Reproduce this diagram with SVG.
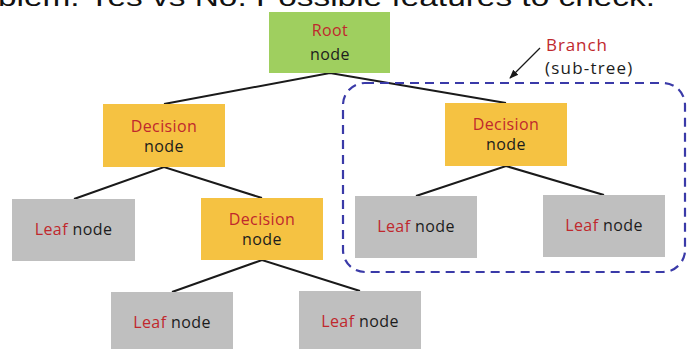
<svg xmlns="http://www.w3.org/2000/svg" width="690" height="349" viewBox="0 0 690 349">
<style>
.t{font-family:"Open Sans","Noto Sans",sans-serif;font-size:16px;letter-spacing:0.4px;text-anchor:middle;fill:#1c1c1c}
.r{fill:#c0282d}
.root{fill:#9fcf5f}
.dec{fill:#f5c242}
.leaf{fill:#bfbfbf}
.ln{stroke:#1a1a1a;stroke-width:2;fill:none}
</style>
<defs>
<marker id="ah" viewBox="0 0 10 10" refX="9" refY="5" markerWidth="7" markerHeight="7" orient="auto">
<path d="M0,1 L10,5 L0,9 Z" fill="#1a1a1a"/>
</marker>
</defs>
<rect width="690" height="349" fill="#ffffff"/>
<text x="-2" y="6" font-family="'Liberation Sans',Arial,sans-serif" font-size="26" fill="#111" textLength="657" lengthAdjust="spacingAndGlyphs">blem. Yes vs No. Possible features to check.</text>

<g id="connectors">
<polyline class="ln" points="164,104 330,73 506,103"/>
<polyline class="ln" points="74,199 164,167 262,198"/>
<polyline class="ln" points="172,292 262,260 360,291"/>
<polyline class="ln" points="416,196 506,166 604,195"/>
<line x1="540" y1="48" x2="510" y2="78" stroke="#1a1a1a" stroke-width="1.3" marker-end="url(#ah)"/>
</g>

<g id="branch">
<rect x="343" y="83" width="342" height="189" rx="22" fill="none" stroke="#3a3aa8" stroke-width="2.2" stroke-dasharray="9 6"/>
<text class="t" x="546" y="50.5" style="text-anchor:start;font-size:17px;letter-spacing:0.9px"><tspan class="r">Branch</tspan></text>
<text class="t" x="545" y="74" style="text-anchor:start;font-size:17px;letter-spacing:1.2px">(sub-tree)</text>
</g>

<g id="root">
<rect class="root" x="269" y="12" width="121" height="61"/>
<text class="t r" x="330" y="35.5">Root</text>
<text class="t" x="330" y="60">node</text>
</g>

<g id="decision1">
<rect class="dec" x="103" y="104" width="122" height="63"/>
<text class="t r" x="164" y="132">Decision</text>
<text class="t" x="164" y="152">node</text>
</g>

<g id="decision3">
<rect class="dec" x="445" y="103" width="122" height="63"/>
<text class="t r" x="506" y="130">Decision</text>
<text class="t" x="506" y="150">node</text>
</g>

<g id="leaf1">
<rect class="leaf" x="12" y="199" width="123" height="62"/>
<text class="t" x="73.5" y="235"><tspan class="r">Leaf</tspan> node</text>
</g>

<g id="decision2">
<rect class="dec" x="201" y="198" width="122" height="62"/>
<text class="t r" x="262" y="224.5">Decision</text>
<text class="t" x="262" y="244.5">node</text>
</g>

<g id="leaf3">
<rect class="leaf" x="355" y="196" width="122" height="62"/>
<text class="t" x="416" y="232"><tspan class="r">Leaf</tspan> node</text>
</g>

<g id="leaf4">
<rect class="leaf" x="543" y="195" width="122" height="62"/>
<text class="t" x="604" y="231"><tspan class="r">Leaf</tspan> node</text>
</g>

<g id="leaf5">
<rect class="leaf" x="111" y="292" width="122" height="62"/>
<text class="t" x="172" y="328"><tspan class="r">Leaf</tspan> node</text>
</g>

<g id="leaf6">
<rect class="leaf" x="299" y="291" width="122" height="62"/>
<text class="t" x="360" y="327"><tspan class="r">Leaf</tspan> node</text>
</g>
</svg>
